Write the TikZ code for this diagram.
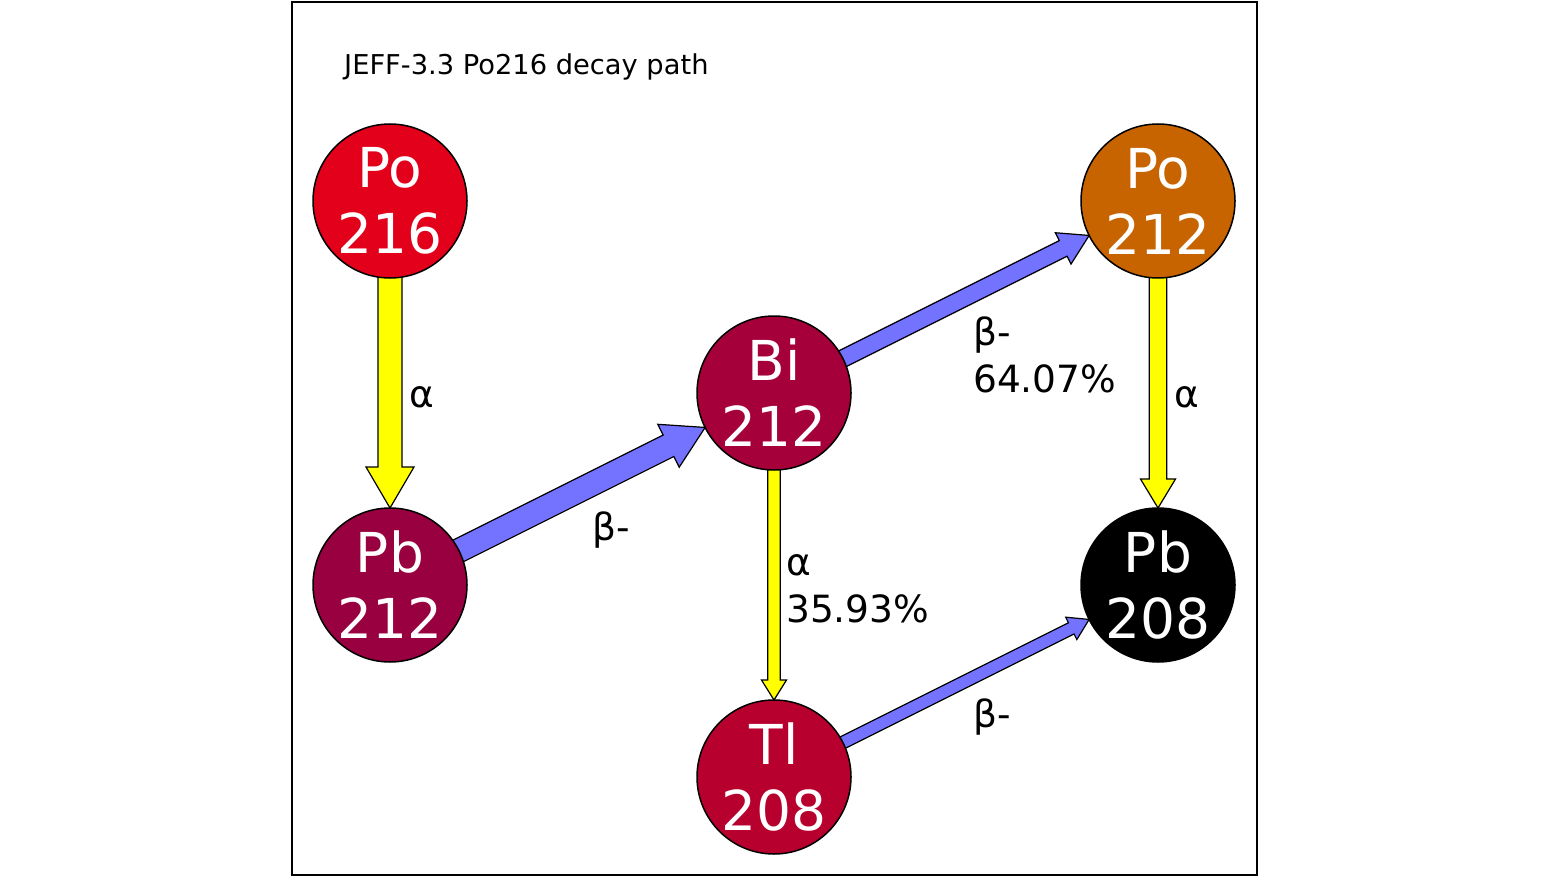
\documentclass[tikz,border=0pt]{standalone}
\usepackage{fontspec}
\setmainfont{DejaVu Sans}
\usetikzlibrary{calc,backgrounds}
\definecolor{cPoA}{HTML}{E2001A}
\definecolor{cPbA}{HTML}{980040}
\definecolor{cBi}{HTML}{A6003B}
\definecolor{cTl}{HTML}{B8002F}
\definecolor{cPoB}{HTML}{C86400}
\definecolor{cbeta}{HTML}{7373FF}
\definecolor{calpha}{HTML}{FFFF00}
\tikzset{
  nuc/.style={circle, draw=black, line width=1.5pt, minimum size=154pt, inner sep=0pt,
    text=white, align=center, font=\fontsize{55}{66}\selectfont},
  elabel/.style={anchor=base west, inner sep=0pt, align=left, font=\fontsize{37.5}{47}\selectfont},
  fatedge/.style={draw=black, line width=1.2pt, line join=miter},
}
\newcommand\fatarrow[6]{%
  \coordinate (fa-s) at (#1.center);
  \coordinate (fa-t) at ($(#2.center)!77pt!(#1.center)$);
  \coordinate (fa-h) at ($(fa-t)!#5!(fa-s)$);
  \filldraw[fatedge, fill=#6] ($(fa-s)!#3!90:(fa-t)$) -- ($(fa-h)!#3!-90:(fa-s)$)
    -- ($(fa-h)!#4!-90:(fa-s)$) -- (fa-t) -- ($(fa-h)!#4!90:(fa-s)$)
    -- ($(fa-h)!#3!90:(fa-s)$) -- ($(fa-s)!#3!-90:(fa-t)$) -- cycle;}
\begin{document}
\begin{tikzpicture}[x=1pt,y=-1pt]
\useasboundingbox (0,0) rectangle (1549,877);
\draw[line width=1.5pt] (292,2) rectangle (1257,875);
\node[anchor=base west, inner sep=0pt, font=\fontsize{27.3}{33}\selectfont] (title) at (344,75) {JEFF-3.3 Po216 decay path};
\node[nuc, fill=cPoA] (po216) at (390,201) {Po\\216};
\node[nuc, fill=cPbA] (pb212) at (390,585) {Pb\\212};
\node[nuc, fill=cBi] (bi212) at (774,393) {Bi\\212};
\node[nuc, fill=cTl] (tl208) at (774,777) {Tl\\208};
\node[nuc, fill=cPoB] (po212) at (1158,201) {Po\\212};
\node[nuc, fill=black] (pb208) at (1158,585) {Pb\\208};
\begin{pgfonlayer}{background}
\fatarrow{po216}{pb212}{12pt}{24pt}{41pt}{calpha}
\fatarrow{pb212}{bi212}{12pt}{24pt}{41pt}{cbeta}
\fatarrow{bi212}{po212}{8.75pt}{17.5pt}{29pt}{cbeta}
\fatarrow{bi212}{tl208}{6.25pt}{12.5pt}{20pt}{calpha}
\fatarrow{po212}{pb208}{8.75pt}{17.5pt}{29pt}{calpha}
\fatarrow{tl208}{pb208}{6.25pt}{12.5pt}{20pt}{cbeta}
\end{pgfonlayer}
\node[elabel] (l1) at (409,407) {α};
\node[elabel] (l2) at (592,540) {β-};
\node[elabel] (l3) at (973,392) {β-\\64.07\%};
\node[elabel] (l4) at (1174,407) {α};
\node[elabel] (l5) at (786,622) {α\\35.93\%};
\node[elabel] (l6) at (973,727) {β-};
\end{tikzpicture}
\end{document}
